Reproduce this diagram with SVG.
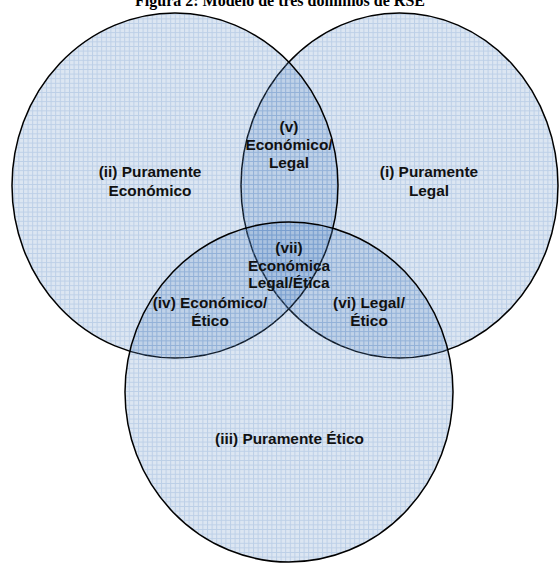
<svg xmlns="http://www.w3.org/2000/svg" width="559" height="563" viewBox="0 0 559 563">
<defs>
<pattern id="grid" patternUnits="userSpaceOnUse" width="4.6" height="4.6">
<rect width="4.6" height="4.6" fill="#4f81bd" fill-opacity="0.2"/>
<path d="M0 0.5H4.6M0.5 0V4.6" stroke="#4f81bd" stroke-opacity="0.22" stroke-width="1" fill="none"/>
</pattern>
</defs>
<style>
.c{fill:url(#grid);stroke:#000;stroke-width:1.5}
.t{font-family:"Liberation Sans",Arial,sans-serif;font-weight:bold;font-size:15.4px;fill:#111;text-anchor:middle}
.title{font-family:"Liberation Serif","Times New Roman",serif;font-weight:bold;font-size:16px;fill:#000;text-anchor:middle}
</style>
<rect width="559" height="563" fill="#fff"/>
<text class="title" x="280" y="6">Figura 2: Modelo de tres dominios de RSE</text>
<g id="legal">
<ellipse class="c" cx="399.5" cy="185.5" rx="158.5" ry="172.5"/>
</g>
<g id="economico">
<ellipse class="c" cx="175" cy="185.5" rx="163" ry="172.5"/>
</g>
<g id="etico">
<ellipse class="c" cx="289" cy="392" rx="164" ry="170"/>
</g>
<g id="labels">
<text class="t" x="150" y="177">(ii) Puramente</text>
<text class="t" x="150" y="196">Económico</text>
<text class="t" x="429" y="177">(i) Puramente</text>
<text class="t" x="429" y="196">Legal</text>
<text class="t" x="289" y="132">(v)</text>
<text class="t" x="289" y="150">Económico/</text>
<text class="t" x="289" y="168">Legal</text>
<text class="t" x="289" y="253">(vii)</text>
<text class="t" x="289" y="271">Económica</text>
<text class="t" x="289" y="288">Legal/Ética</text>
<text class="t" x="210" y="308">(iv) Económico/</text>
<text class="t" x="210" y="326">Ético</text>
<text class="t" x="369" y="308">(vi) Legal/</text>
<text class="t" x="369" y="326">Ético</text>
<text class="t" x="289.5" y="444">(iii) Puramente Ético</text>
</g>
</svg>
